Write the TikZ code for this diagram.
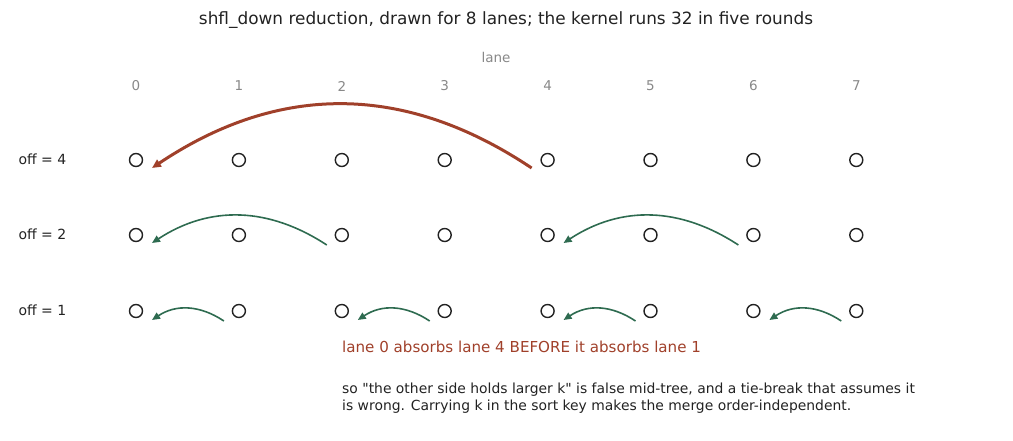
\documentclass[tikz,border=0pt]{standalone}
\usepackage{fontspec}
\setmainfont{DejaVu Sans}[Ligatures=TeXOff]
\usetikzlibrary{arrows.meta}

\definecolor{absorbred}{HTML}{A0402A}
\definecolor{shflgreen}{HTML}{2E6B50}
\definecolor{lanegray}{HTML}{888888}
\definecolor{inkblack}{HTML}{222222}

\begin{document}
\begin{tikzpicture}[x=1pt,y=-1pt]

	\tikzstyle lane dot=[circle, draw=inkblack, line width=1.4pt, minimum size=13pt, inner sep=0pt];
	\tikzstyle lane label=[text=lanegray, font=\fontsize{13.5}{15}\selectfont];
	\tikzstyle off label=[anchor=west, text=inkblack, font=\fontsize{14}{16}\selectfont];
	\tikzstyle shfl arc=[draw=shflgreen, line width=1.6pt, -{Triangle[length=8pt,width=7pt]}];
	\tikzstyle absorb arc=[draw=absorbred, line width=3pt, -{Triangle[length=9pt,width=8pt]}];

	\useasboundingbox (0,0) rectangle (1013,440);

	\node[text=inkblack, font=\fontsize{16.9}{20}\selectfont] (title) at (506,20)
		{shfl\_down reduction, drawn for 8 lanes; the kernel runs 32 in five rounds};
	\node[lane label] (lane) at (496,57) {lane};
	\foreach \i in {0,...,7}
		\node[lane label] (h\i) at (136+102.9*\i,86) {\i};

	% one row of lanes per offset
	\foreach \off/\y in {4/160,2/235,1/311} {
		\node[off label] (off\off) at (15,\y-1) {off = \off};
		\foreach \i in {0,...,7}
			\node[lane dot] (l\off\i) at (136+102.9*\i,\y) {};
	}

	\draw[absorb arc] ([shift={(-16,8)}]l44.center) .. controls +(-127,-85) and +(127,-85) .. ([shift={(16,8)}]l40.center);

	\foreach \a/\b in {2/0,6/4}
		\draw[shfl arc] ([shift={(-15,10)}]l2\a.center) .. controls +(-58,-38) and +(58,-38) .. ([shift={(16,8)}]l2\b.center);

	\foreach \a/\b in {1/0,3/2,5/4,7/6}
		\draw[shfl arc] ([shift={(-15,10)}]l1\a.center) .. controls +(-24,-16) and +(24,-16) .. ([shift={(16,9)}]l1\b.center);

	\node[anchor=west, inner sep=0pt, text=absorbred, font=\fontsize{15.1}{18}\selectfont] (note) at (342,347)
		{lane 0 absorbs lane 4 BEFORE it absorbs lane 1};
	\node[anchor=north west, inner sep=0pt, align=left, text=inkblack, font=\fontsize{13.9}{17}\selectfont] (why) at (342,383)
		{so "the other side holds larger k" is false mid-tree, and a tie-break that assumes it\\
		is wrong. Carrying k in the sort key makes the merge order-independent.};

\end{tikzpicture}
\end{document}
